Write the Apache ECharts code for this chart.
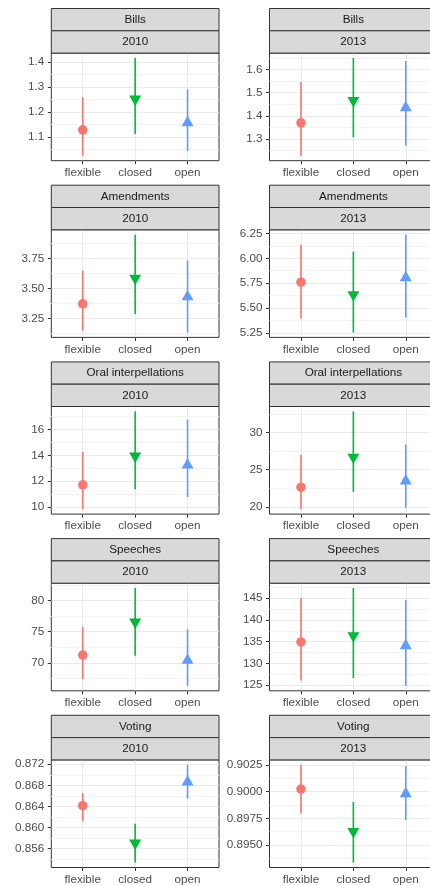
<!DOCTYPE html>
<html><head><meta charset="utf-8">
<script src="https://cdn.jsdelivr.net/npm/echarts@6/dist/echarts.min.js"></script>
<style>html,body{margin:0;padding:0;background:#fff}#c{width:430px;height:886px}</style>
</head><body><div id="c"></div>
<script>
// ---- data ----
const categories = ['flexible', 'closed', 'open'];
const measures = ['Bills', 'Amendments', 'Oral interpellations', 'Speeches', 'Voting'];
const years = ['2010', '2013'];

// each: [2010 values, 2013 values], values ordered as categories
const billsEstimate = [[1.129, 1.252, 1.157], [1.370, 1.466, 1.435]];
const billsLower    = [[1.025, 1.112, 1.044], [1.228, 1.307, 1.271]];
const billsUpper    = [[1.260, 1.416, 1.291], [1.546, 1.649, 1.636]];
const billsTicks    = [['1.1', '1.2', '1.3', '1.4'], ['1.3', '1.4', '1.5', '1.6']];

const amendmentsEstimate = [[3.373, 3.587, 3.431], [5.760, 5.635, 5.804]];
const amendmentsLower    = [[3.151, 3.289, 3.135], [5.394, 5.254, 5.404]];
const amendmentsUpper    = [[3.651, 3.948, 3.734], [6.137, 6.067, 6.237]];
const amendmentsTicks    = [['3.25', '3.50', '3.75'], ['5.25', '5.50', '5.75', '6.00', '6.25']];

const oralEstimate = [[11.71, 13.95, 13.24], [22.65, 26.70, 23.48]];
const oralLower    = [[9.82, 11.37, 10.77], [19.69, 22.04, 19.86]];
const oralUpper    = [[14.26, 17.41, 16.76], [27.00, 32.85, 28.41]];
const oralTicks    = [['10', '12', '14', '16'], ['20', '25', '30']];

const speechesEstimate = [[71.24, 76.56, 70.40], [134.93, 136.38, 134.08]];
const speechesLower    = [[67.37, 71.13, 66.29], [126.08, 126.68, 124.84]];
const speechesUpper    = [[75.76, 82.00, 75.39], [145.00, 147.30, 144.54]];
const speechesTicks    = [['70', '75', '80'], ['125', '130', '135', '140', '145']];

const votingEstimate = [[0.86413, 0.85706, 0.86862], [0.90025, 0.89627, 0.89981]];
const votingLower    = [[0.86122, 0.85335, 0.86549], [0.89797, 0.89334, 0.89734]];
const votingUpper    = [[0.86654, 0.86070, 0.87189], [0.90253, 0.89903, 0.90241]];
const votingTicks    = [['0.856', '0.860', '0.864', '0.868', '0.872'], ['0.8950', '0.8975', '0.9000', '0.9025']];

const estimates = [billsEstimate, amendmentsEstimate, oralEstimate, speechesEstimate, votingEstimate];
const lowers = [billsLower, amendmentsLower, oralLower, speechesLower, votingLower];
const uppers = [billsUpper, amendmentsUpper, oralUpper, speechesUpper, votingUpper];
const tickLabels = [billsTicks, amendmentsTicks, oralTicks, speechesTicks, votingTicks];

// ---- styling / layout ----
const colors = ['#F8766D', '#00BA38', '#619CFF'];
const FONT = '"Liberation Sans", Arial, Helvetica, sans-serif';
const FS = 11.7;
const rowTop0 = 8.5, rowStep = 176.7, stripH = 22.3, plotH = 107.6;
const colLeft = [51.3, 269.5], panelW = 167.7;
const triW = 12, triH = 10.4;
const symbols = ['circle', 'triangle', 'triangle'];
const symRot = [0, 180, 0];
const symSize = [9.5, [triW, triH], [triW, triH]];
const symOff = [[0, 0], [0, triH / 6], [0, -triH / 6]];

const grids = [], xAxes = [], yAxes = [], series = [], graphics = [];
let g = 0;
measures.forEach((m, r) => {
  years.forEach((yr, c) => {
    const est = estimates[r][c], lo = lowers[r][c], hi = uppers[r][c];
    const labels = tickLabels[r][c];
    const tv = labels.map(parseFloat);
    const dmin = Math.min(...lo), dmax = Math.max(...hi);
    const span = dmax - dmin;
    const ymin = dmin - 0.05 * span, ymax = dmax + 0.05 * span;
    const step = tv[1] - tv[0];
    const minors = [];
    for (let i = -1; i < tv.length; i++) {
      const v = tv[0] + (i + 0.5) * step;
      if (v > ymin && v < ymax) minors.push(v);
    }
    const top = rowTop0 + r * rowStep;
    const left = colLeft[c];
    const plotTop = top + 2 * stripH;

    grids.push({ left: left, top: plotTop, width: panelW, height: plotH, show: true,
      backgroundColor: '#ffffff', borderColor: '#333333', borderWidth: 1, containLabel: false, outerBoundsMode: 'none' });

    xAxes.push({ gridIndex: g, type: 'value', min: 0.4, max: 3.6,
      axisLine: { show: false },
      axisTick: { show: true, customValues: [1, 2, 3], length: 3.5, lineStyle: { color: '#333333', width: 1 } },
      axisLabel: { show: true, customValues: [1, 2, 3], formatter: v => categories[Math.round(v) - 1],
        color: '#4D4D4D', fontSize: FS, fontFamily: FONT, margin: 6 },
      splitLine: { show: true, lineStyle: { color: '#EBEBEB', width: 1.1 } },
      minorSplitLine: { show: false } });

    // minor gridlines axis
    yAxes.push({ gridIndex: g, type: 'value', min: ymin, max: ymax, position: 'left',
      axisLine: { show: false },
      axisTick: { show: false, customValues: minors },
      axisLabel: { show: false, customValues: minors },
      splitLine: { show: true, lineStyle: { color: '#F3F3F3', width: 0.9 } } });
    // major axis
    yAxes.push({ gridIndex: g, type: 'value', min: ymin, max: ymax, position: 'left',
      axisLine: { show: false },
      axisTick: { show: true, customValues: tv, length: 3.5, lineStyle: { color: '#333333', width: 1 } },
      axisLabel: { show: true, customValues: tv,
        formatter: v => { const k = tv.findIndex(t => Math.abs(t - v) < step * 1e-3); return k >= 0 ? labels[k] : ''; },
        color: '#4D4D4D', fontSize: FS, fontFamily: FONT, margin: 7 },
      splitLine: { show: true, lineStyle: { color: '#EBEBEB', width: 1.1 } } });

    const yIdx = 2 * g + 1;
    series.push({ type: 'custom', xAxisIndex: g, yAxisIndex: yIdx, silent: true, clip: false, z: 2,
      data: categories.map((cat, i) => [i + 1, lo[i], hi[i], i]),
      encode: { x: 0, y: [1, 2] },
      renderItem: (params, api) => {
        const x = api.value(0);
        const p1 = api.coord([x, api.value(1)]);
        const p2 = api.coord([x, api.value(2)]);
        return { type: 'line', shape: { x1: p1[0], y1: p1[1], x2: p2[0], y2: p2[1] },
          style: { stroke: colors[api.value(3)], lineWidth: 1.6 } };
      } });
    series.push({ type: 'scatter', xAxisIndex: g, yAxisIndex: yIdx, silent: true, z: 3,
      data: categories.map((cat, i) => ({ value: [i + 1, est[i]], symbol: symbols[i], symbolSize: symSize[i],
        symbolRotate: symRot[i], symbolOffset: symOff[i], itemStyle: { color: colors[i], opacity: 1 } })) });

    // strips
    [m, yr].forEach((txt, k) => {
      const sy = top + k * stripH;
      graphics.push({ type: 'rect', silent: true, z: 10,
        shape: { x: left, y: sy, width: panelW, height: stripH },
        style: { fill: '#D9D9D9', stroke: '#333333', lineWidth: 1 } });
      graphics.push({ type: 'text', silent: true, z: 11, x: left + panelW / 2, y: sy + stripH / 2,
        style: { text: txt, fill: '#1A1A1A', font: FS + 'px ' + FONT, align: 'center', verticalAlign: 'middle',
          textAlign: 'center', textVerticalAlign: 'middle' } });
    });
    g++;
  });
});

const chart = echarts.init(document.getElementById('c'), null, { renderer: 'canvas' });
chart.setOption({ animation: false, backgroundColor: '#ffffff', grid: grids, xAxis: xAxes, yAxis: yAxes,
  series: series, graphic: { elements: graphics } });
</script></body></html>
